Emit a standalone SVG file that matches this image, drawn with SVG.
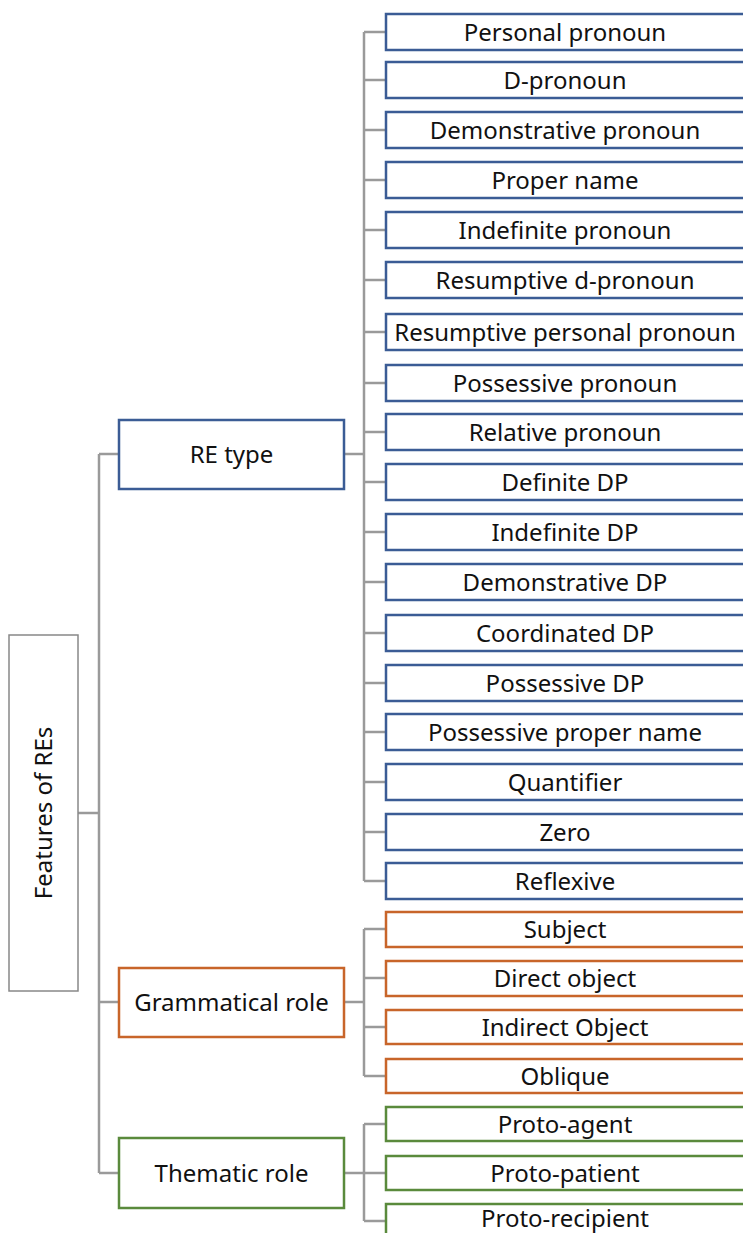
<svg xmlns="http://www.w3.org/2000/svg" width="743" height="1233" viewBox="0 0 743 1233">
<style>
text{font-family:"Noto Sans","Open Sans",sans-serif;font-size:24px;fill:#111;text-anchor:middle}
.c{fill:none;stroke:#9a9a9a;stroke-width:2.5}
.b{fill:#fff;stroke:#3b5c95;stroke-width:2.5}
.o{fill:#fff;stroke:#c8652a;stroke-width:2.5}
.g{fill:#fff;stroke:#5a8a3c;stroke-width:2.5}
.r{fill:#fff;stroke:#888;stroke-width:1.5}
</style>
<g id="connectors">
<path class="c" d="M78 813H99M99 454V1173M99 454H119M99 1002H119M99 1173H119"/>
<path class="c" d="M344 454H364M364 32V881M364 32H386M364 80H386M364 130H386M364 180H386M364 230H386M364 280H386M364 332H386M364 383H386M364 432H386M364 482H386M364 532H386M364 582H386M364 633H386M364 683H386M364 732H386M364 782H386M364 832H386M364 881H386"/>
<path class="c" d="M344 1002H364M364 929V1076M364 929H386M364 978H386M364 1027H386M364 1076H386"/>
<path class="c" d="M344 1173H364M364 1124V1221M364 1124H386M364 1173H386M364 1221H386"/>
</g>
<g id="root"><rect class="r" x="9" y="635" width="69" height="356"/><text transform="translate(52 813) rotate(-90)">Features of REs</text></g>
<g id="re-type"><rect class="b" x="119" y="420" width="225" height="69"/><text x="231.5" y="463">RE type</text></g>
<g id="grammatical-role"><rect class="o" x="119" y="968" width="225" height="69"/><text x="231.5" y="1011">Grammatical role</text></g>
<g id="thematic-role"><rect class="g" x="119" y="1138" width="225" height="70"/><text x="231.5" y="1182">Thematic role</text></g>
<g id="n1"><rect class="b" x="386" y="14" width="370" height="36"/><text x="565" y="41">Personal pronoun</text></g>
<g id="n2"><rect class="b" x="386" y="62" width="370" height="36"/><text x="565" y="89">D-pronoun</text></g>
<g id="n3"><rect class="b" x="386" y="112" width="370" height="36"/><text x="565" y="139">Demonstrative pronoun</text></g>
<g id="n4"><rect class="b" x="386" y="162" width="370" height="36"/><text x="565" y="189">Proper name</text></g>
<g id="n5"><rect class="b" x="386" y="212" width="370" height="36"/><text x="565" y="239">Indefinite pronoun</text></g>
<g id="n6"><rect class="b" x="386" y="262" width="370" height="36"/><text x="565" y="289">Resumptive d-pronoun</text></g>
<g id="n7"><rect class="b" x="386" y="314" width="370" height="36"/><text x="565" y="341">Resumptive personal pronoun</text></g>
<g id="n8"><rect class="b" x="386" y="365" width="370" height="36"/><text x="565" y="392">Possessive pronoun</text></g>
<g id="n9"><rect class="b" x="386" y="414" width="370" height="36"/><text x="565" y="441">Relative pronoun</text></g>
<g id="n10"><rect class="b" x="386" y="464" width="370" height="36"/><text x="565" y="491">Definite DP</text></g>
<g id="n11"><rect class="b" x="386" y="514" width="370" height="36"/><text x="565" y="541">Indefinite DP</text></g>
<g id="n12"><rect class="b" x="386" y="564" width="370" height="36"/><text x="565" y="591">Demonstrative DP</text></g>
<g id="n13"><rect class="b" x="386" y="615" width="370" height="36"/><text x="565" y="642">Coordinated DP</text></g>
<g id="n14"><rect class="b" x="386" y="665" width="370" height="36"/><text x="565" y="692">Possessive DP</text></g>
<g id="n15"><rect class="b" x="386" y="714" width="370" height="36"/><text x="565" y="741">Possessive proper name</text></g>
<g id="n16"><rect class="b" x="386" y="764" width="370" height="36"/><text x="565" y="791">Quantifier</text></g>
<g id="n17"><rect class="b" x="386" y="814" width="370" height="36"/><text x="565" y="841">Zero</text></g>
<g id="n18"><rect class="b" x="386" y="863" width="370" height="36"/><text x="565" y="890">Reflexive</text></g>
<g id="n19"><rect class="o" x="386" y="912" width="370" height="35"/><text x="565" y="938">Subject</text></g>
<g id="n20"><rect class="o" x="386" y="961" width="370" height="35"/><text x="565" y="987">Direct object</text></g>
<g id="n21"><rect class="o" x="386" y="1010" width="370" height="34"/><text x="565" y="1036">Indirect Object</text></g>
<g id="n22"><rect class="o" x="386" y="1059" width="370" height="34"/><text x="565" y="1085">Oblique</text></g>
<g id="n23"><rect class="g" x="386" y="1107" width="370" height="34"/><text x="565" y="1133">Proto-agent</text></g>
<g id="n24"><rect class="g" x="386" y="1156" width="370" height="34"/><text x="565" y="1182">Proto-patient</text></g>
<g id="n25"><rect class="g" x="386" y="1204" width="370" height="40"/><text x="565" y="1227">Proto-recipient</text></g>
</svg>
